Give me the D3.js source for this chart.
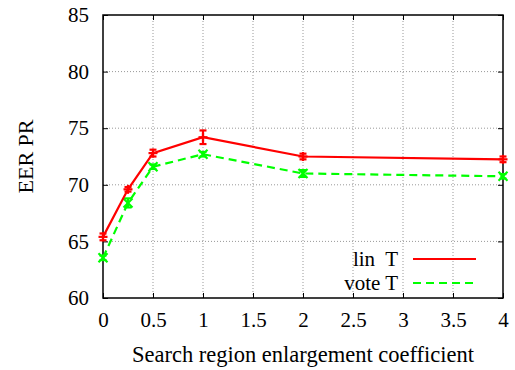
<!DOCTYPE html>
<html><head><meta charset="utf-8">
<script src="https://cdn.jsdelivr.net/npm/d3@7/dist/d3.min.js"></script>
<style>body{margin:0;background:#fff}svg text{font-family:"Liberation Serif","Times New Roman",Times,"DejaVu Serif",serif !important;fill:#000}</style>
</head><body><svg id="c" width="515" height="370"></svg>
<script>
const xs = [0, 0.25, 0.5, 1, 2, 4];
const linT = [65.4, 69.6, 72.8, 74.2, 72.5, 72.25];
const linErr = [0.3, 0.2, 0.3, 0.6, 0.25, 0.25];
const voteT = [63.55, 68.4, 71.6, 72.7, 71.0, 70.75];
const voteErr = [0.2, 0.4, 0.2, 0.2, 0.3, 0.2];
const xTicks = [0, 0.5, 1, 1.5, 2, 2.5, 3, 3.5, 4];
const yTicks = [60, 65, 70, 75, 80, 85];
const seriesNames = ["lin  T", "vote T"];

const svg = d3.select("#c");
const L = 103, R = 503, T = 15, B = 298;
const x = d3.scaleLinear().domain([0, 4]).range([L, R]);
const y = d3.scaleLinear().domain([60, 85]).range([B, T]);

// grid
const g = svg.append("g");
g.selectAll(".gx").data(xTicks.slice(1, -1)).enter().append("line")
  .attr("x1", d => x(d)).attr("x2", d => x(d)).attr("y1", T).attr("y2", B)
  .attr("stroke", "#999").attr("stroke-width", 1).attr("stroke-dasharray", "1,2");
g.selectAll(".gy").data(yTicks.slice(1, -1)).enter().append("line")
  .attr("y1", d => y(d)).attr("y2", d => y(d)).attr("x1", L).attr("x2", R)
  .attr("stroke", "#999").attr("stroke-width", 1).attr("stroke-dasharray", "1,2");

// axes with inward ticks
const axB = svg.append("g").attr("transform", `translate(0,${B})`)
  .call(d3.axisBottom(x).tickValues(xTicks).tickSize(-5).tickPadding(14).tickFormat(d3.format("")));
const axL = svg.append("g").attr("transform", `translate(${L},0)`)
  .call(d3.axisLeft(y).tickValues(yTicks).tickSize(-5).tickPadding(14));
const axT = svg.append("g").attr("transform", `translate(0,${T})`)
  .call(d3.axisTop(x).tickValues(xTicks).tickSize(-5).tickFormat(""));
const axR = svg.append("g").attr("transform", `translate(${R},0)`)
  .call(d3.axisRight(y).tickValues(yTicks).tickSize(-5).tickFormat(""));
[axB, axL, axT, axR].forEach(a => {
  a.attr("font-family", null);
  a.select(".domain").remove();
  a.selectAll("line").attr("stroke", "#000");
  a.selectAll("text").attr("font-size", 21);
});
svg.append("rect").attr("x", L).attr("y", T).attr("width", R - L).attr("height", B - T)
  .attr("fill", "none").attr("stroke", "#000").attr("stroke-width", 1.5);

const line = d3.line().x(d => x(d[0])).y(d => y(d[1]));
const red = "#ff0000", green = "#00ff00";

function drawSeries(vals, errs, color, dash, marker) {
  const pts = xs.map((v, i) => [v, vals[i], errs[i]]);
  svg.append("path").datum(pts).attr("d", line).attr("fill", "none")
    .attr("stroke", color).attr("stroke-width", 2.2).attr("stroke-dasharray", dash);
  const eg = svg.append("g").attr("stroke", color).attr("stroke-width", 2.2);
  pts.forEach(p => {
    const cx = x(p[0]), cy = y(p[1]);
    eg.append("line").attr("x1", cx).attr("x2", cx).attr("y1", y(p[1] - p[2])).attr("y2", y(p[1] + p[2]));
    eg.append("line").attr("x1", cx - 3.5).attr("x2", cx + 3.5).attr("y1", y(p[1] - p[2])).attr("y2", y(p[1] - p[2]));
    eg.append("line").attr("x1", cx - 3.5).attr("x2", cx + 3.5).attr("y1", y(p[1] + p[2])).attr("y2", y(p[1] + p[2]));
    const s = 4.5;
    if (marker === "+") {
      eg.append("line").attr("x1", cx - s).attr("x2", cx + s).attr("y1", cy).attr("y2", cy);
      eg.append("line").attr("x1", cx).attr("x2", cx).attr("y1", cy - s).attr("y2", cy + s);
    } else {
      eg.append("line").attr("x1", cx - s).attr("x2", cx + s).attr("y1", cy - s).attr("y2", cy + s);
      eg.append("line").attr("x1", cx - s).attr("x2", cx + s).attr("y1", cy + s).attr("y2", cy - s);
    }
  });
}
drawSeries(voteT, voteErr, green, "8,5", "x");
drawSeries(linT, linErr, red, null, "+");

// legend
const leg = [[seriesNames[0], red, null, 259], [seriesNames[1], green, "8,5", 283]];
leg.forEach(l => {
  svg.append("text").attr("x", 398).attr("y", l[3]).attr("dy", "0.35em").attr("text-anchor", "end")
    .attr("font-size", 21).style("white-space", "pre").text(l[0]);
  svg.append("line").attr("x1", 413).attr("x2", 476).attr("y1", l[3]).attr("y2", l[3])
    .attr("stroke", l[1]).attr("stroke-width", 2.2).attr("stroke-dasharray", l[2]);
});

// axis titles
svg.append("text").attr("x", (L + R) / 2).attr("y", 362).attr("text-anchor", "middle")
  .attr("font-size", 22.5).text("Search region enlargement coefficient");
svg.append("text").attr("transform", `translate(33,${(T + B) / 2}) rotate(-90)`)
  .attr("text-anchor", "middle").attr("font-size", 22).text("EER PR");
</script></body></html>
